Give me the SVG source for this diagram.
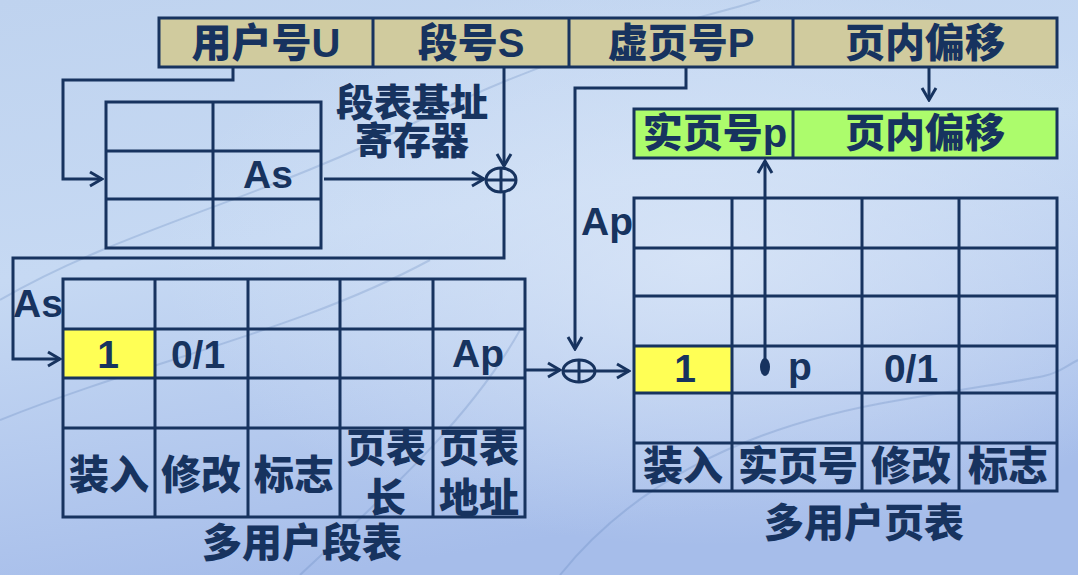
<svg xmlns="http://www.w3.org/2000/svg" width="1078" height="575" viewBox="0 0 1078 575">
<style>
.ln{fill:none;stroke:#17335f;stroke-width:3}
.cell{fill:none;stroke:#17335f;stroke-width:3}
.t{font-family:"Liberation Sans","Noto Sans CJK SC",sans-serif;font-weight:900;fill:#17335f;text-anchor:middle}
.c40{font-size:40px}
.c38{font-size:38px}
.l38{font-size:39px}
</style>
<defs>
<linearGradient id="bg" x1="0" y1="0" x2="0.3" y2="1">
<stop offset="0" stop-color="#bfd3ef"/>
<stop offset="0.45" stop-color="#c6d9f3"/>
<stop offset="1" stop-color="#a6bdea"/>
</linearGradient>
<radialGradient id="glow" cx="0.65" cy="0.45" r="0.5">
<stop offset="0" stop-color="#dbe7f8" stop-opacity="0.8"/>
<stop offset="1" stop-color="#dbe7f8" stop-opacity="0"/>
</radialGradient>
<marker id="ah" viewBox="-14 -9 16 18" refX="0" refY="0" markerWidth="16" markerHeight="18" markerUnits="userSpaceOnUse" orient="auto">
<path d="M-12,-7 L0,0 L-12,7" fill="none" stroke="#17335f" stroke-width="3"/>
</marker>
</defs>
<rect width="1078" height="575" fill="url(#bg)"/>
<rect width="1078" height="575" fill="url(#glow)"/>
<g opacity="0.25" fill="none" stroke="#5b7fb8" stroke-width="2">
<path d="M0,300 C120,230 260,200 420,120 S700,20 760,0"/>
<path d="M0,420 C150,360 300,330 430,260"/>
<path d="M560,575 C620,500 720,430 900,400 S1040,380 1078,360"/>
<path d="M300,575 C380,500 470,420 520,330"/>
</g>

<g id="addr-bar">
<rect x="159" y="18" width="898" height="49" fill="#d0cb9e" stroke="#17335f" stroke-width="3"/>
<path class="ln" d="M373,18 V67 M569,18 V67 M793,18 V67"/>
<text class="t c40" x="266" y="57">用户号U</text>
<text class="t c40" x="471" y="57">段号S</text>
<text class="t c40" x="681" y="57">虚页号P</text>
<text class="t c40" x="925" y="57">页内偏移</text>
</g>

<g id="phys-bar">
<rect x="634" y="109" width="423" height="49" fill="#acfc6c" stroke="#17335f" stroke-width="3"/>
<path class="ln" d="M793,109 V158"/>
<text class="t c40" x="715" y="147">实页号p</text>
<text class="t c40" x="925" y="147">页内偏移</text>
</g>

<g id="seg-base-reg">
<rect class="cell" x="106" y="102" width="215" height="146"/>
<path class="ln" d="M106,151 H321 M106,199 H321 M213,102 V248"/>
<text class="t l38" x="268" y="188">As</text>
</g>
<g id="reg-label">
<text class="t c38" x="412" y="116">段表基址</text>
<text class="t c38" x="412" y="154">寄存器</text>
</g>

<g id="sum1">
<ellipse cx="501" cy="180" rx="15" ry="12" fill="none" stroke="#17335f" stroke-width="3"/>
<path class="ln" d="M486,180 H516 M501,168 V192"/>
</g>

<g id="seg-table">
<rect x="63" y="329" width="92" height="49" fill="#ffff55"/>
<rect class="cell" x="63" y="279" width="462" height="238"/>
<path class="ln" d="M63,329 H525 M63,378 H525 M63,428 H525 M155,279 V517 M248,279 V517 M340,279 V517 M433,279 V517"/>
<text class="t l38" x="108" y="368">1</text>
<text class="t l38" x="198" y="368">0/1</text>
<text class="t l38" x="478" y="367">Ap</text>
<text class="t c40" x="109" y="489">装入</text>
<text class="t c40" x="201" y="489">修改</text>
<text class="t c40" x="294" y="489">标志</text>
<text class="t c40" x="386" y="462">页表</text>
<text class="t c40" x="386" y="512">长</text>
<text class="t c40" x="479" y="462">页表</text>
<text class="t c40" x="479" y="512">地址</text>
<text class="t c40" x="302" y="557">多用户段表</text>
</g>

<g id="sum2">
<ellipse cx="579" cy="371" rx="16" ry="11" fill="none" stroke="#17335f" stroke-width="3"/>
<path class="ln" d="M563,371 H595 M579,360 V382"/>
</g>

<g id="page-table">
<rect x="634" y="346" width="98" height="47" fill="#ffff55"/>
<rect class="cell" x="634" y="198" width="423" height="293"/>
<path class="ln" d="M634,248 H1057 M634,296 H1057 M634,346 H1057 M634,393 H1057 M634,443 H1057 M732,198 V491 M862,198 V491 M959,198 V491"/>
<text class="t l38" x="685" y="382">1</text>
<text class="t l38" x="800" y="380">p</text>
<text class="t l38" x="911" y="382">0/1</text>
<text class="t c40" x="683" y="480">装入</text>
<text class="t c40" x="798" y="480">实页号</text>
<text class="t c40" x="911" y="480">修改</text>
<text class="t c40" x="1008" y="480">标志</text>
<text class="t c40" x="864" y="537">多用户页表</text>
</g>

<g id="labels">
<text class="t l38" x="38" y="317">As</text>
<text class="t l38" x="607" y="235">Ap</text>
</g>

<g id="connectors">
<path class="ln" d="M233,67 V80 H63 V179 H102" marker-end="url(#ah)"/>
<path class="ln" d="M504,67 V166" marker-end="url(#ah)"/>
<path class="ln" d="M324,179 H484" marker-end="url(#ah)"/>
<path class="ln" d="M504,192 V258 H13 V359 H60" marker-end="url(#ah)"/>
<path class="ln" d="M525,370 H560" marker-end="url(#ah)"/>
<path class="ln" d="M686,67 V88 H575 V349" marker-end="url(#ah)"/>
<path class="ln" d="M595,371 H629" marker-end="url(#ah)"/>
<path class="ln" d="M929,67 V100" marker-end="url(#ah)"/>
<path class="ln" d="M765,367 V161" marker-end="url(#ah)"/>
<ellipse cx="765" cy="367" rx="5" ry="9" fill="#17335f"/>
</g>
</svg>
